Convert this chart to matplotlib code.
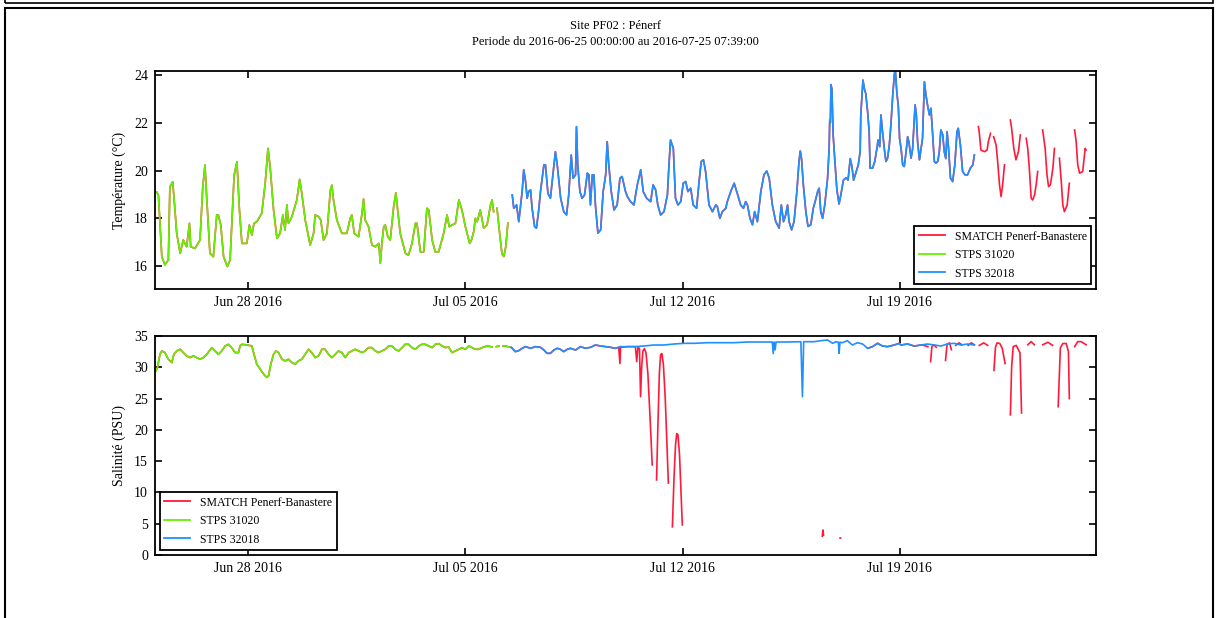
import numpy as np
import pandas as pd
import matplotlib
matplotlib.use("Agg")
import matplotlib.pyplot as plt
import matplotlib.dates as mdates
from matplotlib.lines import Line2D
from matplotlib.patches import Rectangle

nan = np.nan
START = pd.Timestamp("2016-06-25 00:00:00")
END = pd.Timestamp("2016-07-25 07:39:00")

site_title = "Site PF02 : Pénerf"
period_title = "Periode du 2016-06-25 00:00:00 au 2016-07-25 07:39:00"
series_names = ["SMATCH Penerf-Banastere", "STPS 31020", "STPS 32018"]
series_colors = ["#ff1a3c", "#66f000", "#1e90ff"]

# (days since START, temperature in degC)
temp_31020 = [
    (0.0, 19.1), (0.05, 19.11), (0.11, 18.97), (0.22, 16.39), (0.32, 16.05), (0.43, 16.26),
    (0.48, 19.32), (0.57, 19.53), (0.61, 18.9), (0.70, 17.37), (0.81, 16.53), (0.91, 17.09),
    (1.02, 16.81), (1.11, 17.79), (1.15, 16.81), (1.29, 16.74), (1.45, 17.09), (1.54, 19.32),
    (1.61, 20.23), (1.67, 18.77), (1.77, 16.53), (1.88, 16.39), (1.99, 18.14), (2.04, 18.14),
    (2.12, 17.72), (2.21, 16.39), (2.33, 15.98), (2.42, 16.26), (2.55, 19.81), (2.64, 20.37),
    (2.72, 18.35), (2.80, 16.95), (2.96, 16.95), (3.04, 17.72), (3.12, 17.3), (3.19, 17.79),
    (3.28, 17.86), (3.44, 18.21), (3.55, 19.46), (3.64, 20.93), (3.71, 20.16), (3.82, 18.35),
    (3.93, 17.16), (4.03, 17.37), (4.12, 18.14), (4.19, 17.51), (4.25, 18.56), (4.30, 17.79),
    (4.41, 18.07), (4.57, 18.77), (4.66, 19.63), (4.73, 19.04), (4.84, 17.93), (5.00, 16.88),
    (5.11, 17.37), (5.16, 18.14), (5.27, 18.07), (5.34, 17.93), (5.43, 17.09), (5.54, 17.37),
    (5.65, 19.18), (5.70, 19.39), (5.75, 18.77), (5.86, 17.93), (6.02, 17.37), (6.18, 17.37),
    (6.29, 18.0), (6.34, 18.14), (6.42, 17.37), (6.56, 17.23), (6.67, 18.21), (6.72, 18.81),
    (6.77, 17.93), (6.88, 17.65), (6.99, 16.88), (7.10, 16.81), (7.21, 16.95), (7.26, 16.12),
    (7.31, 16.95), (7.37, 17.65), (7.42, 17.72), (7.50, 17.23), (7.58, 17.09), (7.69, 18.49),
    (7.76, 19.07), (7.82, 18.35), (7.90, 17.37), (8.07, 16.53), (8.17, 16.46), (8.28, 16.95),
    (8.39, 17.79), (8.44, 17.79), (8.55, 16.6), (8.66, 16.6), (8.76, 18.42), (8.82, 18.35),
    (8.93, 17.09), (9.03, 16.6), (9.14, 16.6), (9.30, 17.37), (9.41, 18.14), (9.48, 17.65),
    (9.57, 17.72), (9.68, 17.79), (9.79, 18.77), (9.89, 18.35), (10.00, 17.65), (10.14, 16.95),
    (10.20, 17.1), (10.27, 17.45), (10.32, 18.0), (10.38, 17.86), (10.48, 18.35), (10.59, 17.59),
    (10.70, 17.73), (10.81, 18.56), (10.86, 18.77), (10.91, 18.28), (10.96, nan), (11.02, 18.42),
    (11.11, 17.3), (11.18, 16.5), (11.24, 16.4), (11.30, 16.8), (11.37, 17.8),
]

temp_32018 = [
    (11.51, 18.98), (11.56, 18.42), (11.65, 18.56), (11.72, 17.86), (11.77, 18.42), (11.83, 19.12),
    (11.88, 20.03), (11.94, 19.54), (11.99, 18.84), (12.04, 19.12), (12.10, 19.19), (12.15, 18.42),
    (12.23, 17.66), (12.29, 17.59), (12.37, 18.42), (12.42, 19.12), (12.53, 20.24), (12.58, 20.24),
    (12.66, 19.05), (12.74, 18.84), (12.83, 19.96), (12.90, 20.79), (12.96, 20.24), (13.07, 18.84),
    (13.17, 18.28), (13.26, 18.14), (13.33, 18.98), (13.41, 20.65), (13.47, 19.68), (13.55, 19.82),
    (13.58, 21.84), (13.62, 20.24), (13.69, 19.12), (13.76, 18.84), (13.84, 18.98), (13.93, 19.89),
    (13.98, 19.82), (14.03, 18.56), (14.09, 19.82), (14.14, 19.82), (14.19, 18.56), (14.27, 17.38),
    (14.36, 17.52), (14.44, 19.12), (14.52, 19.82), (14.57, 21.21), (14.62, 20.24), (14.70, 19.12),
    (14.79, 18.35), (14.89, 18.56), (14.98, 19.68), (15.05, 19.75), (15.11, 19.4), (15.16, 19.12),
    (15.22, 18.91), (15.32, 18.7), (15.43, 18.56), (15.54, 19.4), (15.65, 20.03), (15.73, 19.12),
    (15.84, 18.84), (15.97, 18.7), (16.05, 19.4), (16.13, 19.19), (16.20, 18.56), (16.29, 18.14),
    (16.40, 18.28), (16.51, 18.98), (16.56, 20.24), (16.61, 21.28), (16.70, 20.93), (16.77, 18.84),
    (16.85, 18.56), (16.94, 18.7), (17.02, 19.47), (17.10, 19.54), (17.17, 19.12), (17.26, 19.26),
    (17.34, 18.56), (17.45, 18.42), (17.53, 19.54), (17.60, 20.38), (17.67, 20.45), (17.74, 19.96),
    (17.85, 18.56), (17.96, 18.28), (18.07, 18.56), (18.12, 18.49), (18.20, 18.0), (18.28, 18.28),
    (18.39, 18.42), (18.44, 18.7), (18.55, 19.12), (18.66, 19.47), (18.76, 19.05), (18.87, 18.56),
    (18.96, 18.42), (19.03, 18.7), (19.09, 18.56), (19.17, 18.0), (19.25, 17.73), (19.32, 18.28),
    (19.41, 17.86), (19.52, 19.12), (19.62, 19.82), (19.71, 19.98), (19.79, 19.68), (19.89, 18.56),
    (20.00, 17.86), (20.11, 17.59), (20.18, 18.56), (20.25, 17.86), (20.32, 18.14), (20.38, 18.56),
    (20.43, 17.86), (20.51, 17.52), (20.59, 17.86), (20.68, 19.12), (20.75, 20.38), (20.79, 20.82),
    (20.83, 20.51), (20.89, 19.4), (20.97, 18.28), (21.04, 17.66), (21.13, 17.73), (21.21, 18.42),
    (21.27, 18.7), (21.35, 19.12), (21.40, 19.26), (21.45, 18.28), (21.51, 18.0), (21.58, 18.56),
    (21.67, 19.68), (21.72, 20.9), (21.74, 22.1), (21.76, 22.0), (21.78, 23.6), (21.81, 23.4),
    (21.85, 21.5), (21.90, 20.5), (21.97, 19.2), (22.04, 18.6), (22.10, 19.0), (22.18, 19.6),
    (22.27, 19.7), (22.33, 19.6), (22.40, 20.5), (22.45, 20.2), (22.51, 19.6), (22.58, 19.9),
    (22.66, 20.24), (22.72, 20.8), (22.74, 22.3), (22.76, 22.75), (22.81, 23.79), (22.86, 23.4),
    (22.90, 23.23), (22.96, 22.47), (23.01, 21.63), (23.04, 20.1), (23.12, 20.1), (23.19, 20.38),
    (23.26, 20.93), (23.30, 21.28), (23.35, 21.0), (23.39, 22.33), (23.44, 21.63), (23.50, 20.9),
    (23.55, 20.38), (23.60, 20.5), (23.66, 21.07), (23.71, 21.91), (23.77, 23.16), (23.82, 24.0),
    (23.85, 24.28), (23.90, 23.3), (23.95, 22.68), (23.99, 21.35), (24.04, 20.9), (24.09, 20.24),
    (24.14, 20.17), (24.20, 20.79), (24.25, 21.42), (24.29, 21.2), (24.33, 20.8), (24.36, 20.52),
    (24.41, 20.9), (24.49, 22.75), (24.53, 22.33), (24.57, 21.21), (24.63, 20.45), (24.68, 20.9),
    (24.73, 21.35), (24.79, 23.72), (24.84, 23.16), (24.89, 22.75), (24.95, 22.33), (25.00, 22.61),
    (25.05, 21.63), (25.11, 20.38), (25.16, 20.31), (25.22, 20.38), (25.27, 20.79), (25.32, 21.7),
    (25.38, 21.5), (25.43, 20.79), (25.48, 20.5), (25.52, 21.63), (25.57, 20.9), (25.63, 19.68),
    (25.70, 19.54), (25.77, 20.24), (25.84, 21.63), (25.88, 21.77), (25.95, 21.07), (26.02, 19.96),
    (26.10, 19.82), (26.18, 19.82), (26.27, 20.1), (26.35, 20.24), (26.40, 20.65),
]

# SMATCH record after the STPS 32018 deployment ends
temp_smatch_tail = [
    (26.53, 21.84), (26.56, 21.56), (26.61, 20.86), (26.72, 20.79), (26.81, 20.86), (26.85, 21.21),
    (26.92, 21.56), (26.96, nan), (27.02, 21.42), (27.10, 21.07), (27.15, 20.38), (27.21, 19.4),
    (27.26, 18.91), (27.31, 19.4), (27.37, 20.24), (27.45, nan), (27.56, 22.12), (27.60, 21.77),
    (27.67, 20.93), (27.74, 20.45), (27.82, 20.79), (27.88, 21.49), (27.95, nan), (28.07, 21.35),
    (28.12, 20.93), (28.17, 20.1), (28.23, 18.84), (28.28, 18.77), (28.34, 18.98), (28.39, 19.4),
    (28.44, 19.96), (28.50, nan), (28.60, 21.7), (28.68, 20.93), (28.74, 19.82), (28.79, 19.33),
    (28.85, 19.4), (28.93, 20.1), (28.98, 20.93), (29.05, nan), (29.14, 20.52), (29.20, 19.54),
    (29.25, 18.56), (29.30, 18.28), (29.39, 18.56), (29.46, 19.47), (29.55, nan), (29.63, 21.7),
    (29.68, 21.21), (29.73, 20.24), (29.79, 19.89), (29.89, 19.96), (29.97, 20.93), (30.00, 20.86),
]

# (days since START, salinity in PSU)
sal_31020 = [
    (0.03, 29.43), (0.08, 29.96), (0.16, 32.08), (0.22, 32.61), (0.32, 32.35), (0.43, 31.29),
    (0.54, 30.76), (0.61, 32.08), (0.70, 32.61), (0.81, 32.88), (0.91, 32.35), (1.02, 31.82),
    (1.13, 31.55), (1.24, 31.82), (1.34, 31.55), (1.45, 31.29), (1.56, 31.55), (1.67, 32.08),
    (1.83, 33.14), (1.94, 32.61), (2.04, 32.08), (2.15, 32.61), (2.26, 33.41), (2.37, 33.67),
    (2.47, 33.14), (2.58, 32.35), (2.69, 32.35), (2.74, 33.41), (2.80, 33.67), (2.96, 33.57),
    (3.12, 33.41), (3.19, 32.08), (3.28, 30.49), (3.39, 29.7), (3.50, 28.9), (3.60, 28.37),
    (3.66, 28.64), (3.73, 30.49), (3.82, 32.08), (3.90, 32.61), (3.98, 32.35), (4.09, 31.29),
    (4.19, 31.02), (4.30, 31.29), (4.41, 30.76), (4.52, 30.49), (4.62, 31.02), (4.73, 31.29),
    (4.84, 32.08), (4.95, 32.88), (5.05, 32.35), (5.16, 31.55), (5.27, 31.82), (5.38, 32.88),
    (5.48, 32.88), (5.59, 32.08), (5.70, 31.55), (5.81, 32.08), (5.91, 32.61), (6.02, 32.35),
    (6.13, 31.55), (6.24, 32.35), (6.34, 32.61), (6.45, 32.88), (6.56, 32.61), (6.67, 32.35),
    (6.77, 32.61), (6.88, 33.14), (6.99, 33.14), (7.10, 32.61), (7.20, 32.35), (7.31, 32.61),
    (7.42, 32.88), (7.53, 33.41), (7.63, 33.41), (7.74, 32.88), (7.85, 32.61), (7.96, 33.14),
    (8.06, 33.67), (8.17, 33.67), (8.28, 33.14), (8.39, 32.88), (8.50, 33.41), (8.60, 33.67),
    (8.71, 33.67), (8.82, 33.41), (8.93, 33.14), (9.03, 33.67), (9.14, 33.78), (9.25, 33.41),
    (9.36, 33.14), (9.46, 33.25), (9.57, 32.35), (9.68, 32.61), (9.79, 32.88), (9.89, 33.14),
    (10.00, 32.88), (10.11, 33.41), (10.22, 33.14), (10.32, 32.88), (10.43, 32.88), (10.54, 33.14),
    (10.70, 33.41), (10.86, 33.25), (10.95, nan), (11.00, 33.3), (11.08, 33.41), (11.18, nan),
    (11.22, 33.4), (11.29, 33.41), (11.40, 33.25),
]

sal_32018 = [
    (11.47, 33.2), (11.51, 33.03), (11.61, 32.5), (11.72, 32.66), (11.83, 33.03), (11.94, 33.3),
    (12.10, 33.03), (12.26, 33.3), (12.42, 33.19), (12.53, 32.76), (12.63, 32.23), (12.74, 32.23),
    (12.85, 32.76), (12.96, 33.03), (13.06, 32.87), (13.17, 32.5), (13.28, 32.87), (13.39, 33.03),
    (13.55, 32.76), (13.71, 33.3), (13.87, 33.03), (14.03, 33.19), (14.19, 33.56), (14.36, 33.4),
    (14.52, 33.3), (14.68, 33.19), (14.84, 33.03), (15.00, 33.3), (15.22, 33.3), (15.43, 33.3),
    (15.75, 33.4), (16.08, 33.56), (16.40, 33.56), (16.72, 33.72), (17.04, 33.83), (17.37, 33.83),
    (17.80, 33.93), (18.23, 33.93), (18.66, 33.93), (19.09, 34.04), (19.52, 34.04), (19.89, 34.04),
    (19.92, 32.2), (19.95, 34.04), (19.98, 32.8), (20.01, 34.04), (20.38, 34.04), (20.81, 34.09),
    (20.86, 25.3), (20.90, 34.09), (21.24, 34.09), (21.45, 34.25), (21.67, 34.36), (21.83, 33.83),
    (21.94, 34.09), (22.02, 34.0), (22.04, 32.23), (22.07, 34.0), (22.15, 33.93), (22.31, 34.25),
    (22.47, 33.56), (22.63, 33.93), (22.80, 33.72), (22.96, 33.03), (23.12, 33.3), (23.28, 33.83),
    (23.44, 33.4), (23.60, 33.3), (23.82, 33.56), (23.98, 33.83), (24.03, 33.56), (24.25, 33.72),
    (24.46, 33.4), (24.68, 33.56), (24.89, 33.72), (25.11, 33.56), (25.32, 33.4), (25.54, 33.72),
    (25.75, 33.83), (25.97, 33.56), (26.18, 33.72), (26.40, 33.56),
]

# SMATCH salinity drops (fresh-water events) and isolated low readings
sal_smatch_events = [
    (14.94, 33.2), (14.98, 30.6), (15.02, 33.2), (15.48, 33.3), (15.52, 30.9), (15.56, 33.2),
    (15.61, 33.0), (15.645, 25.3), (15.68, 30.0), (15.72, 32.6), (15.77, 33.0), (15.82, 32.3),
    (15.88, 29.0), (15.95, 22.0), (16.02, 14.4), (16.09, nan), (16.16, 12.0), (16.20, 20.0),
    (16.25, 29.0), (16.29, 32.0), (16.33, 32.2), (16.38, 30.5), (16.44, 25.0), (16.50, 17.0),
    (16.54, 11.5), (16.60, nan), (16.67, 4.5), (16.72, 12.0), (16.77, 17.5), (16.81, 19.4),
    (16.85, 19.2), (16.90, 16.0), (16.95, 10.0), (16.99, 4.8), (17.05, nan), (21.50, 3.0),
    (21.52, 4.0), (21.54, 3.2), (21.60, nan), (22.07, 2.7), (22.09, 2.7), (22.15, nan),
]

sal_smatch_tail = [
    (24.50, 33.4), (24.70, 33.6), (24.90, 33.3), (24.96, nan), (24.99, 30.9), (25.03, 33.3),
    (25.10, 33.6), (25.17, 33.2), (25.22, nan), (25.47, 31.1), (25.52, 33.7), (25.60, 33.9),
    (25.66, 32.8), (25.70, nan), (25.80, 33.5), (25.90, 33.9), (26.00, 33.6), (26.05, nan),
    (26.20, 33.5), (26.30, 33.9), (26.40, 33.6), (26.45, nan), (26.56, 33.5), (26.70, 33.9),
    (26.83, 33.5), (26.90, nan), (27.03, 29.5), (27.08, 33.2), (27.13, 33.9), (27.22, 33.8),
    (27.30, 33.0), (27.39, 30.6), (27.42, nan), (27.56, 22.4), (27.60, 30.0), (27.65, 33.3),
    (27.75, 33.5), (27.87, 32.3), (27.92, 22.7), (27.95, nan), (28.12, 33.6), (28.23, 34.1),
    (28.33, 33.6), (28.40, nan), (28.60, 33.6), (28.77, 34.0), (28.92, 33.5), (28.97, nan),
    (29.10, 23.7), (29.17, 33.1), (29.25, 33.8), (29.36, 33.8), (29.43, 32.5), (29.46, 25.0),
    (29.50, nan), (29.63, 33.3), (29.73, 34.1), (29.84, 34.1), (30.00, 33.6),
]

temp_smatch = temp_31020 + [(11.44, nan)] + temp_32018 + [(26.46, nan)] + temp_smatch_tail
sal_smatch = sorted(
    sal_31020 + [(11.44, nan)]
    + [p for p in sal_32018 if p[0] < 15.45]
    + sal_smatch_events
    + [p for p in sal_32018 if 22.9 <= p[0] < 24.5]
    + sal_smatch_tail,
    key=lambda p: p[0],
)


def to_series(points):
    days = np.array([p[0] for p in points], dtype=float)
    vals = np.array([p[1] for p in points], dtype=float)
    return START + pd.to_timedelta(days, unit="D"), vals


plt.rcParams["font.family"] = ["Liberation Serif", "DejaVu Serif"]

W, H = 1218, 618
fig = plt.figure(figsize=(W / 100, H / 100), dpi=100)
fig.patch.set_facecolor("white")

ax_t = fig.add_axes([155 / W, 1 - 289 / H, 941 / W, 218 / H])
ax_s = fig.add_axes([155 / W, 1 - 555 / H, 941 / W, 219 / H])

panels = [
    (ax_t, [temp_smatch, temp_31020, temp_32018], (15.04, 24.17), [16, 18, 20, 22, 24],
     "Température (°C)", "lower right"),
    (ax_s, [sal_smatch, sal_31020, sal_32018], (0, 35), [0, 5, 10, 15, 20, 25, 30, 35],
     "Salinité (PSU)", "lower left"),
]

for ax, data, ylim, yticks, ylabel, legloc in panels:
    for pts, color, name in zip(data, series_colors, series_names):
        t, v = to_series(pts)
        ax.plot(t, v, color=color, lw=1.2, label=name)
    ax.set_xlim(START, END)
    ax.set_ylim(*ylim)
    ax.set_yticks(yticks)
    ax.set_ylabel(ylabel, fontsize=10, labelpad=6)
    ax.xaxis.set_major_locator(mdates.WeekdayLocator(byweekday=mdates.TU))
    ax.xaxis.set_major_formatter(mdates.DateFormatter("%b %d %Y"))
    ax.tick_params(direction="in", length=5, width=1.2, top=True, right=True,
                   labelsize=10, pad=5)
    for sp in ax.spines.values():
        sp.set_linewidth(1.3)
    handles = [Line2D([], [], color=c, lw=1.3) for c in series_colors]
    leg = ax.legend(handles, series_names, loc=legloc, fontsize=8.5, fancybox=False,
                    framealpha=1, edgecolor="black", borderaxespad=0.4,
                    handlelength=2.2, labelspacing=0.55)
    leg.get_frame().set_linewidth(1.3)

fig.text(0.505, 1 - 26 / H, site_title, ha="center", va="center", fontsize=9)
fig.text(0.505, 1 - 42 / H, period_title, ha="center", va="center", fontsize=9)

# page frame around the figure
fig.patches.append(Rectangle((5 / W, -0.01), 1208 / W, 1 - 8 / H + 0.01,
                             transform=fig.transFigure, fill=False, edgecolor="black",
                             lw=1.5))
fig.patches.append(Rectangle((5 / W, 1 - 3 / H), 1208 / W, 0.02,
                             transform=fig.transFigure, fill=False, edgecolor="black",
                             lw=1.2))

fig.savefig("out.png", dpi=100)
